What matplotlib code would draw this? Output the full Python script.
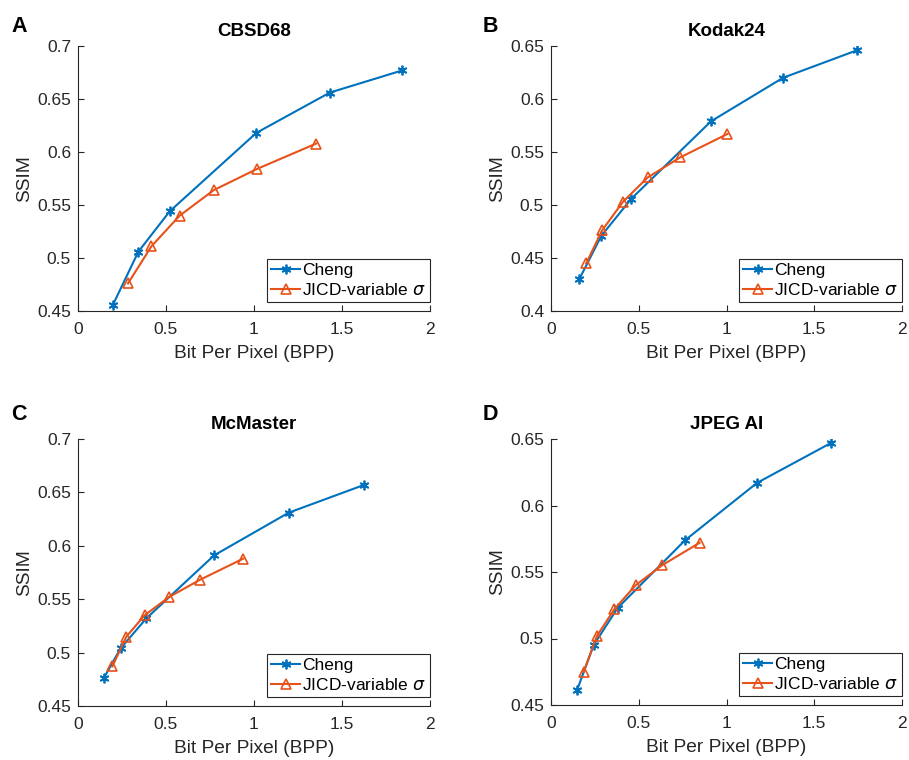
import matplotlib.pyplot as plt

plt.rcParams['font.family'] = ['Liberation Sans', 'DejaVu Sans']
plt.rcParams['mathtext.fontset'] = 'dejavusans'

# Rate-distortion points (BPP, SSIM) per dataset
cbsd_cheng_bpp = [0.199, 0.343, 0.521, 1.013, 1.430, 1.843]
cbsd_cheng_ssim = [0.456, 0.506, 0.544, 0.618, 0.656, 0.677]
cbsd_jicd_bpp = [0.284, 0.417, 0.578, 0.771, 1.017, 1.354]
cbsd_jicd_ssim = [0.476, 0.511, 0.540, 0.564, 0.584, 0.608]

kodak_cheng_bpp = [0.161, 0.287, 0.458, 0.912, 1.322, 1.744]
kodak_cheng_ssim = [0.430, 0.471, 0.506, 0.579, 0.620, 0.646]
kodak_jicd_bpp = [0.201, 0.291, 0.410, 0.551, 0.737, 1.005]
kodak_jicd_ssim = [0.445, 0.476, 0.503, 0.526, 0.545, 0.567]

mcm_cheng_bpp = [0.146, 0.242, 0.388, 0.773, 1.197, 1.625]
mcm_cheng_ssim = [0.476, 0.504, 0.532, 0.591, 0.631, 0.657]
mcm_jicd_bpp = [0.195, 0.275, 0.379, 0.517, 0.691, 0.939]
mcm_jicd_ssim = [0.487, 0.515, 0.535, 0.552, 0.568, 0.588]

jpeg_cheng_bpp = [0.148, 0.243, 0.380, 0.765, 1.174, 1.595]
jpeg_cheng_ssim = [0.461, 0.495, 0.523, 0.574, 0.617, 0.647]
jpeg_jicd_bpp = [0.186, 0.262, 0.361, 0.482, 0.632, 0.847]
jpeg_jicd_ssim = [0.475, 0.502, 0.522, 0.540, 0.555, 0.572]

titles = ['CBSD68', 'Kodak24', 'McMaster', 'JPEG AI']
letters = ['A', 'B', 'C', 'D']
ylims = [(0.45, 0.7), (0.4, 0.65), (0.45, 0.7), (0.45, 0.65)]
yticks = [
    [0.45, 0.5, 0.55, 0.6, 0.65, 0.7],
    [0.4, 0.45, 0.5, 0.55, 0.6, 0.65],
    [0.45, 0.5, 0.55, 0.6, 0.65, 0.7],
    [0.45, 0.5, 0.55, 0.6, 0.65],
]
xticks = [0, 0.5, 1, 1.5, 2]

data = [
    (cbsd_cheng_bpp, cbsd_cheng_ssim, cbsd_jicd_bpp, cbsd_jicd_ssim),
    (kodak_cheng_bpp, kodak_cheng_ssim, kodak_jicd_bpp, kodak_jicd_ssim),
    (mcm_cheng_bpp, mcm_cheng_ssim, mcm_jicd_bpp, mcm_jicd_ssim),
    (jpeg_cheng_bpp, jpeg_cheng_ssim, jpeg_jicd_bpp, jpeg_jicd_ssim),
]

W, H = 909, 760
# axes boxes in pixels: left, right, top, bottom
boxes = [(78, 430, 46, 311), (551, 902, 46, 311), (78, 430, 439, 706), (551, 902, 439, 705)]
letter_pos = [(11, 26), (483, 26), (11, 414), (483, 414)]

blue = (0.0, 0.447, 0.741)
orange = (0.9, 0.32, 0.1)
axis_gray = (0.15, 0.15, 0.15)
asterisk = (6, 2, 0)

fig = plt.figure(figsize=(W / 100, H / 100), dpi=100)

for i in range(4):
    l, r, t, b = boxes[i]
    ax = fig.add_axes([l / W, 1 - b / H, (r - l) / W, (b - t) / H])
    cb, cs, jb, js = data[i]
    ax.plot(cb, cs, color=blue, marker=asterisk, markersize=7, markeredgewidth=1.3,
            linewidth=1.5, label='Cheng')
    ax.plot(jb, js, color=orange, marker='^', markersize=6.5, markerfacecolor='none',
            markeredgewidth=1.2, linewidth=1.5, label=r'JICD-variable $\sigma$')
    ax.set_xlim(0, 2)
    ax.set_ylim(*ylims[i])
    ax.set_xticks(xticks)
    ax.set_xticklabels(['0', '0.5', '1', '1.5', '2'])
    ax.set_yticks(yticks[i])
    ax.set_yticklabels([f'{v:g}' for v in yticks[i]])
    ax.spines['top'].set_visible(False)
    ax.spines['right'].set_visible(False)
    for s in ('left', 'bottom'):
        ax.spines[s].set_color(axis_gray)
        ax.spines[s].set_linewidth(0.8)
    ax.tick_params(direction='in', length=4, width=0.8, color=axis_gray,
                   labelsize=12.5, labelcolor=axis_gray, pad=5)
    ax.tick_params(axis='x', pad=8)
    ax.set_xlabel('Bit Per Pixel (BPP)', fontsize=13.8, color=axis_gray, labelpad=6)
    ax.set_ylabel('SSIM', fontsize=13.8, color=axis_gray, labelpad=3)
    ax.set_title(titles[i], fontsize=13.5, fontweight='bold', pad=7)
    leg = ax.legend(loc='lower right', bbox_to_anchor=(1.0, 9 / (b - t)),
                    fontsize=12.5, frameon=True, fancybox=False, framealpha=1,
                    borderpad=0.25, handlelength=1.7, handletextpad=0.1,
                    labelspacing=0.2, borderaxespad=0)
    leg.get_frame().set_edgecolor(axis_gray)
    leg.get_frame().set_linewidth(0.8)
    fig.text(letter_pos[i][0] / W, 1 - letter_pos[i][1] / H, letters[i],
             fontsize=15.5, fontweight='bold', va='center', ha='left')

fig.savefig('out.png', dpi=100)
